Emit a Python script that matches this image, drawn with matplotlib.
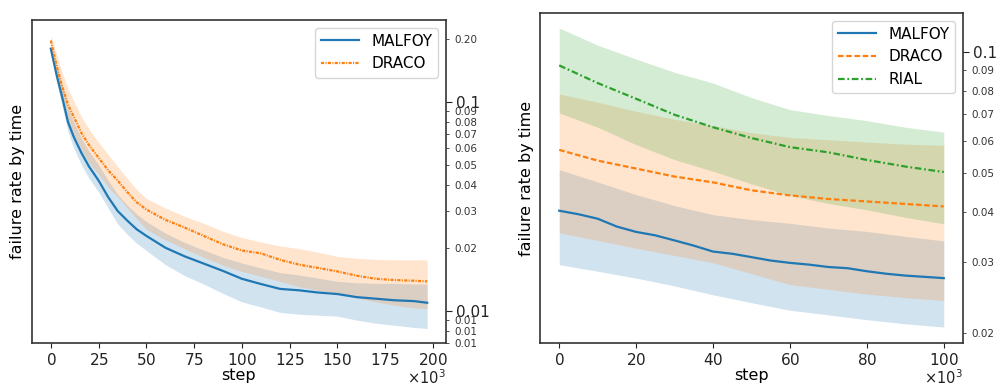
import numpy as np
import matplotlib
matplotlib.use("Agg")
import matplotlib.pyplot as plt
from matplotlib.ticker import LogLocator, FixedLocator, FormatStrFormatter, FixedFormatter, ScalarFormatter

# ---------------- data: left panel (steps in thousands) ----------------
left_steps = [0, 3, 6, 9, 12, 16, 20, 25, 30, 35, 40, 45, 50, 60, 70, 80, 90,
              100, 110, 120, 130, 140, 150, 160, 170, 180, 190, 197]
left_malfoy = [0.180, 0.135, 0.105, 0.080, 0.068, 0.057, 0.049, 0.042, 0.035, 0.030,
               0.027, 0.0245, 0.0228, 0.0200, 0.0182, 0.0168, 0.0155, 0.0142, 0.0134,
               0.0127, 0.0125, 0.0122, 0.0120, 0.0116, 0.0114, 0.0112, 0.0111, 0.0109]
left_malfoy_hi = [0.190, 0.150, 0.120, 0.094, 0.080, 0.067, 0.058, 0.050, 0.042, 0.036,
                  0.032, 0.029, 0.0267, 0.0235, 0.0212, 0.0195, 0.0180, 0.0169, 0.0160,
                  0.0152, 0.0148, 0.0143, 0.0138, 0.0136, 0.0135, 0.0135, 0.0134, 0.0134]
left_malfoy_lo = [0.175, 0.125, 0.095, 0.072, 0.060, 0.050, 0.043, 0.037, 0.031, 0.026,
                  0.0232, 0.0210, 0.0194, 0.0166, 0.0147, 0.0134, 0.0121, 0.0110, 0.0104,
                  0.0098, 0.0096, 0.0095, 0.0094, 0.0090, 0.0087, 0.0085, 0.0083, 0.0082]
left_draco = [0.197, 0.150, 0.118, 0.097, 0.085, 0.071, 0.062, 0.054, 0.047, 0.042,
              0.037, 0.033, 0.0305, 0.0272, 0.0250, 0.0228, 0.0208, 0.0194, 0.0188,
              0.0175, 0.0166, 0.0160, 0.0154, 0.0147, 0.0142, 0.0140, 0.0139, 0.0138]
left_draco_hi = [0.208, 0.170, 0.138, 0.116, 0.101, 0.085, 0.074, 0.064, 0.056, 0.049,
                 0.043, 0.038, 0.0345, 0.0310, 0.0283, 0.0262, 0.0240, 0.0224, 0.0213,
                 0.0204, 0.0198, 0.0190, 0.0182, 0.0178, 0.0176, 0.0175, 0.0175, 0.0175]
left_draco_lo = [0.185, 0.125, 0.098, 0.080, 0.070, 0.059, 0.051, 0.045, 0.039, 0.035,
                 0.031, 0.0275, 0.0245, 0.0218, 0.0198, 0.0180, 0.0165, 0.0154, 0.0146,
                 0.0138, 0.0130, 0.0125, 0.0121, 0.0115, 0.0110, 0.0106, 0.0103, 0.0102]

# ---------------- data: right panel ----------------
right_line_steps = [0, 5, 10, 15, 20, 25, 30, 35, 40, 45, 50, 55, 60, 65, 70, 75, 80, 85, 90, 95, 100]
right_malfoy = [0.0403, 0.0395, 0.0385, 0.0368, 0.0357, 0.0350, 0.0340, 0.0330, 0.0319,
                0.0315, 0.0309, 0.0303, 0.0299, 0.0296, 0.0292, 0.0290, 0.0285, 0.0281,
                0.0278, 0.0276, 0.0274]
right_steps = [0, 10, 20, 30, 40, 50, 60, 70, 80, 90, 100]
right_draco = [0.0571, 0.0537, 0.0513, 0.0490, 0.0474, 0.0453, 0.0440, 0.0431, 0.0425, 0.0419, 0.0413]
right_rial = [0.0926, 0.0837, 0.0765, 0.0698, 0.0650, 0.0611, 0.0580, 0.0563, 0.0539, 0.0519, 0.0503]
right_malfoy_hi = [0.0510, 0.0475, 0.0442, 0.0415, 0.0394, 0.0383, 0.0375, 0.0365, 0.0358, 0.0348, 0.0339]
right_malfoy_lo = [0.0296, 0.0285, 0.0274, 0.0262, 0.0249, 0.0238, 0.0228, 0.0222, 0.0216, 0.0211, 0.0207]
right_draco_hi = [0.0786, 0.0750, 0.0712, 0.0680, 0.0656, 0.0630, 0.0613, 0.0605, 0.0597, 0.0590, 0.0586]
right_draco_lo = [0.0355, 0.0340, 0.0325, 0.0312, 0.0299, 0.0281, 0.0264, 0.0257, 0.0250, 0.0245, 0.0241]
right_rial_hi = [0.1147, 0.1040, 0.0960, 0.0890, 0.0837, 0.0770, 0.0719, 0.0695, 0.0675, 0.0650, 0.0632]
right_rial_lo = [0.0705, 0.0650, 0.0588, 0.0540, 0.0505, 0.0470, 0.0440, 0.0420, 0.0405, 0.0388, 0.0374]

C0, C1, C2 = "#1f77b4", "#ff7f0e", "#2ca02c"
SPINE = "#333333"

fig = plt.figure(figsize=(9.99, 3.88), dpi=100)
axL = fig.add_axes([32/999, 45/388, 414/999, 323/388])
axR = fig.add_axes([540/999, 45/388, 423/999, 330/388])


def k(v):
    return np.array(v) * 1000.0


# left panel
axL.fill_between(k(left_steps), left_malfoy_lo, left_malfoy_hi, color=C0, alpha=0.2, lw=0)
axL.fill_between(k(left_steps), left_draco_lo, left_draco_hi, color=C1, alpha=0.2, lw=0)
axL.plot(k(left_steps), left_malfoy, color=C0, lw=1.6, label="MALFOY")
axL.plot(k(left_steps), left_draco, color=C1, lw=1.6, linestyle=(0, (1.4, 0.6, 0.5, 0.6)), label="DRACO")
axL.set_ylim(0.00699, 0.247)
axL.set_xlim(-9850, 206850)

# right panel
axR.fill_between(k(right_steps), right_malfoy_lo, right_malfoy_hi, color=C0, alpha=0.2, lw=0)
axR.fill_between(k(right_steps), right_draco_lo, right_draco_hi, color=C1, alpha=0.2, lw=0)
axR.fill_between(k(right_steps), right_rial_lo, right_rial_hi, color=C2, alpha=0.2, lw=0)
axR.plot(k(right_line_steps), right_malfoy, color=C0, lw=1.6, label="MALFOY")
axR.plot(k(right_steps), right_draco, color=C1, lw=1.6, linestyle=(0, (2.5, 1.2)), label="DRACO")
axR.plot(k(right_steps), right_rial, color=C2, lw=1.6, linestyle=(0, (3, 1.2, 0.8, 1.2)), label="RIAL")
axR.set_ylim(0.0189, 0.125)
axR.set_xlim(-5000, 105000)

for ax, lpad in ((axL, 5), (axR, 4)):
    ax.set_yscale("log")
    ax.yaxis.tick_right()
    ax.yaxis.set_label_position("left")
    ax.yaxis.set_major_locator(FixedLocator([0.01, 0.1]))
    ax.yaxis.set_major_formatter(FixedFormatter(["0.01", "0.1"]))
    ax.yaxis.set_minor_locator(LogLocator(base=10, subs=np.arange(2, 10)))
    ax.yaxis.set_minor_formatter(FormatStrFormatter("%.2f"))
    ax.tick_params(axis="y", which="major", labelsize=11, length=4, colors="#222222")
    ax.tick_params(axis="y", which="minor", labelsize=7.5, length=2.5, colors="#333333")
    ax.tick_params(axis="x", labelsize=11, pad=3, colors="#222222")
    fmt = ScalarFormatter(useMathText=True)
    fmt.set_powerlimits((3, 3))
    ax.xaxis.set_major_formatter(fmt)
    ax.xaxis.OFFSETTEXTPAD = 0
    ax.xaxis.get_offset_text().set_fontsize(10.5)
    ax.set_xlabel("step", fontsize=11.5, labelpad=0)
    ax.set_ylabel("failure rate by time", fontsize=11.5, labelpad=lpad)
    for s in ax.spines.values():
        s.set_color(SPINE)
        s.set_linewidth(1.2)
    ax.legend(loc="upper right", fontsize=11, framealpha=0.8, handlelength=2.5)

axL.xaxis.set_major_locator(FixedLocator(k([0, 25, 50, 75, 100, 125, 150, 175, 200])))
axR.xaxis.set_major_locator(FixedLocator(k([0, 20, 40, 60, 80, 100])))

fig.savefig("out.png", dpi=100)
